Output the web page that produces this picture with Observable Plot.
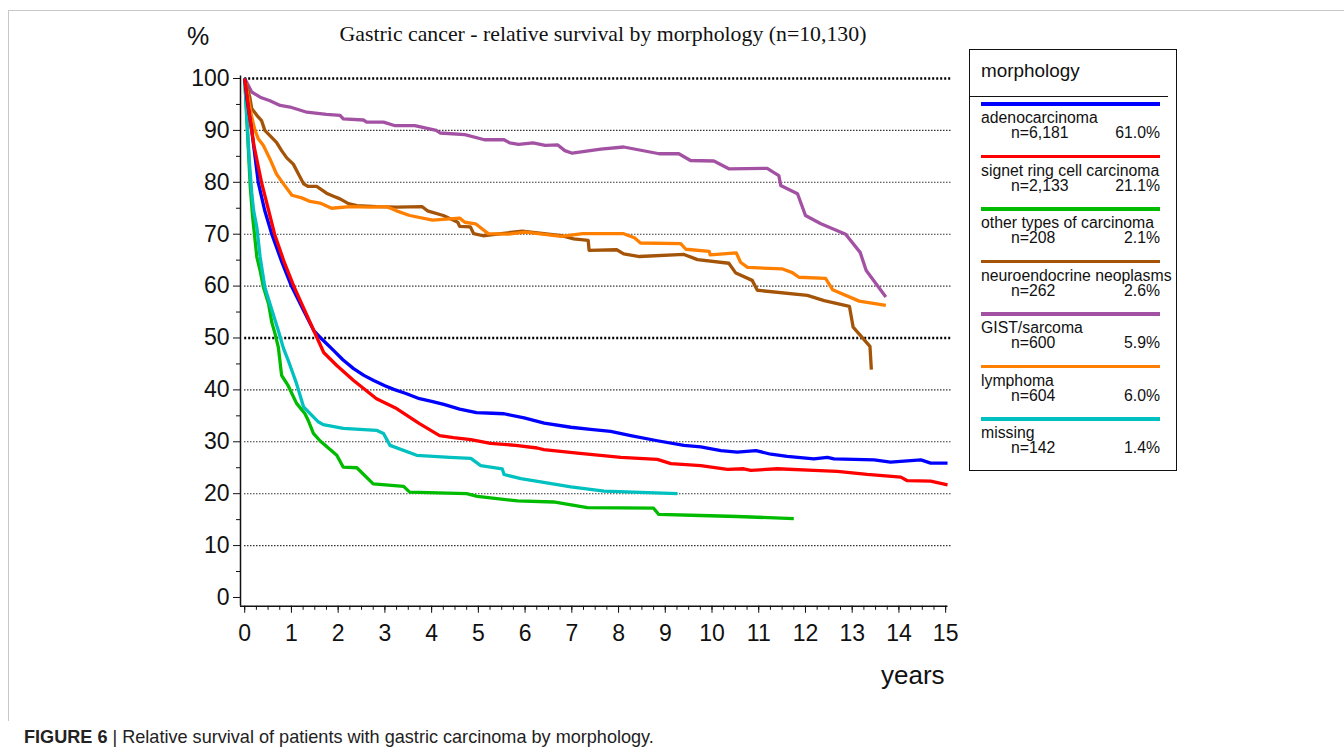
<!DOCTYPE html>
<html>
<head>
<meta charset="utf-8">
<script src="https://cdn.jsdelivr.net/npm/d3@7"></script>
<script src="https://cdn.jsdelivr.net/npm/@observablehq/plot@0.6"></script>
<style>
  html, body { margin: 0; padding: 0; background: #fff; }
  body { width: 1344px; height: 754px; position: relative; overflow: hidden; }
  .abs { position: absolute; white-space: nowrap; }
  #frame { position: absolute; left: 8px; top: 10px; width: 1340px; height: 710px; border-top: 1px solid #c8c8c8; border-left: 1px solid #c8c8c8; }
  #title { left: 0; width: 1206px; top: 22px; text-align: center; font-family: "Liberation Serif", "Times New Roman", serif; font-size: 21.8px; color: #111; }
  #pct { left: 187px; top: 22px; font-family: "Liberation Sans", Arial, sans-serif; font-size: 25px; color: #111; }
  #years { left: 881px; top: 660px; font-family: "Liberation Sans", Arial, sans-serif; font-size: 26px; color: #111; }
  #legend { position: absolute; left: 969px; top: 49px; width: 208px; height: 422px; border: 1.5px solid #111; box-sizing: border-box; font-family: "Liberation Sans", Arial, sans-serif; color: #111; }
  #caption { left: 24px; top: 727px; font-family: "Liberation Sans", Arial, sans-serif; font-size: 18.1px; color: #222; }
  #chart { position: absolute; left: 0; top: 0; }
</style>
</head>
<body>
<div id="frame"></div>
<div id="chart"></div>
<div id="title" class="abs"></div>
<div id="pct" class="abs">%</div>
<div id="years" class="abs">years</div>
<div id="legend"></div>
<div id="caption" class="abs"><b>FIGURE 6</b> | Relative survival of patients with gastric carcinoma by morphology.</div>
<script>
// ---------- data ----------
const titleText = "Gastric cancer - relative survival by morphology (n=10,130)";
const legendTitle = "morphology";

const categories = ["adenocarcinoma", "signet ring cell carcinoma", "other types of carcinoma", "neuroendocrine neoplasms", "GIST/sarcoma", "lymphoma", "missing"];
const counts = ["n=6,181", "n=2,133", "n=208", "n=262", "n=600", "n=604", "n=142"];
const shares = ["61.0%", "21.1%", "2.1%", "2.6%", "5.9%", "6.0%", "1.4%"];
const colors = ["#0000ff", "#ff0000", "#00bb00", "#a45408", "#a352a3", "#ff8000", "#00c0c0"];

const xTicks = d3.range(0, 16, 1);
const xMinorTicks = d3.range(0, 15.01, 0.25);
const yTicks = d3.range(0, 101, 10);
const yMinorTicks = d3.range(5, 100, 10);
const gridValues = d3.range(10, 101, 10);
const boldGrid = [50, 100];

// [years, relative survival %]
const adenocarcinoma = [[0,100],[0.05,96],[0.15,90],[0.29,80],[0.43,74.5],[0.58,70],[0.8,64.5],[1.0,60],[1.25,55.5],[1.48,51.4],[1.65,49.8],[1.9,47.6],[2.1,45.8],[2.33,44.1],[2.55,42.8],[2.76,41.8],[3.0,40.8],[3.19,40.1],[3.45,39.3],[3.74,38.3],[4.0,37.8],[4.26,37.2],[4.6,36.3],[4.96,35.6],[5.3,35.5],[5.55,35.4],[5.98,34.6],[6.41,33.6],[6.98,32.8],[7.4,32.4],[7.83,32.0],[8.26,31.2],[8.83,30.2],[9.4,29.3],[9.76,29.0],[10.19,28.3],[10.54,28.0],[10.94,28.3],[11.26,27.6],[11.61,27.2],[12.18,26.7],[12.47,27.0],[12.61,26.7],[13.47,26.5],[13.82,26.1],[14.47,26.5],[14.68,25.9],[15.04,25.9]];
const signetRing = [[0,100],[0.1,93],[0.2,87],[0.36,80],[0.5,75],[0.64,70],[0.85,64.5],[1.05,60],[1.25,56],[1.48,51.4],[1.69,47.2],[1.97,44.7],[2.33,41.8],[2.82,38.3],[3.25,36.4],[3.74,33.5],[4.17,31.2],[4.47,30.8],[4.84,30.4],[5.26,29.7],[5.8,29.3],[6.26,28.8],[6.40,28.5],[7.12,27.8],[8.05,27.0],[8.83,26.6],[9.12,25.8],[9.76,25.4],[10.33,24.7],[10.68,24.8],[10.83,24.5],[11.40,24.8],[12.18,24.5],[12.68,24.3],[13.32,23.7],[14.04,23.2],[14.18,22.5],[14.68,22.4],[15.04,21.7]];
const otherCarcinoma = [[0,100],[0.04,93],[0.08,86],[0.12,79],[0.17,73.3],[0.26,65.6],[0.33,63.0],[0.40,59.8],[0.51,56.6],[0.58,53],[0.65,50.8],[0.72,48.2],[0.79,42.8],[0.93,40.8],[1.11,37.4],[1.29,35.4],[1.36,34.1],[1.47,31.6],[1.61,30.2],[1.97,27.4],[2.11,25.1],[2.40,25.0],[2.75,21.9],[3.40,21.4],[3.53,20.3],[4.75,20.0],[4.98,19.5],[5.84,18.6],[6.61,18.4],[7.33,17.3],[8.75,17.2],[8.86,16.0],[9.76,15.8],[10.54,15.6],[11.75,15.2]];
const neuroendocrine = [[0,100],[0.11,96.4],[0.15,94.2],[0.26,92.9],[0.36,91.9],[0.43,90.0],[0.54,89.0],[0.68,87.7],[0.79,86.1],[0.90,84.7],[1.04,83.5],[1.15,81.6],[1.26,79.7],[1.36,79.2],[1.54,79.2],[1.75,77.9],[1.90,77.3],[2.04,76.8],[2.22,75.9],[2.40,75.5],[2.82,75.3],[3.25,75.2],[3.80,75.3],[3.91,74.5],[4.25,73.6],[4.56,72.3],[4.60,71.5],[4.83,71.4],[4.90,70.1],[5.10,69.7],[5.94,70.6],[6.78,69.7],[7.04,69.1],[7.35,68.8],[7.37,66.9],[7.96,67.0],[8.11,66.2],[8.45,65.7],[9.40,66.1],[9.69,65.1],[10.36,64.4],[10.51,62.5],[10.86,61.1],[10.97,59.2],[12.04,58.2],[12.40,57.2],[12.94,56.1],[13.02,52.1],[13.38,48.4],[13.41,43.9]];
const gistSarcoma = [[0,100],[0.15,97.4],[0.33,96.4],[0.54,95.7],[0.76,94.8],[0.97,94.5],[1.33,93.5],[1.75,93.1],[2.04,92.9],[2.11,92.2],[2.54,92.0],[2.61,91.6],[2.97,91.6],[3.22,90.9],[3.64,90.9],[4.10,90.0],[4.18,89.5],[4.71,89.2],[5.13,88.2],[5.55,88.2],[5.67,87.6],[5.86,87.3],[6.17,87.6],[6.43,87.1],[6.70,87.2],[6.85,86.1],[7.01,85.6],[7.62,86.4],[8.11,86.8],[8.87,85.5],[9.29,85.5],[9.54,84.2],[10.04,84.1],[10.36,82.6],[11.18,82.7],[11.43,81.3],[11.47,79.4],[11.83,77.8],[12.00,73.6],[12.33,72.0],[12.86,70.0],[13.17,66.5],[13.30,63.0],[13.72,57.9]];
const lymphoma = [[0,100],[0.11,94.5],[0.15,92.6],[0.22,90.0],[0.29,88.4],[0.40,87.1],[0.54,84.5],[0.68,81.6],[0.83,79.7],[1.01,77.5],[1.22,77.0],[1.40,76.3],[1.61,76.0],[1.86,75.0],[2.25,75.3],[2.68,75.2],[3.04,75.3],[3.25,74.5],[3.53,73.6],[4.02,72.7],[4.60,73.1],[4.71,72.3],[4.94,72.0],[5.21,70.1],[5.63,70.0],[6.01,70.4],[6.78,69.6],[7.23,70.1],[8.11,70.1],[8.34,69.3],[8.47,68.3],[9.33,68.2],[9.44,67.1],[9.94,66.7],[9.96,66.0],[10.52,66.4],[10.61,64.6],[10.76,63.6],[11.51,63.3],[11.72,62.6],[11.86,61.7],[12.43,61.5],[12.58,59.3],[13.15,57.1],[13.72,56.3]];
const missing = [[0,100],[0.05,92],[0.1,84],[0.15,78],[0.19,74.6],[0.26,71.3],[0.33,65.6],[0.43,59.8],[0.54,56.6],[0.65,53.4],[0.72,51.4],[0.83,48],[0.93,45.7],[1.11,41.2],[1.26,36.7],[1.58,33.8],[1.68,33.3],[2.11,32.6],[2.82,32.2],[2.97,31.6],[3.11,29.3],[3.68,27.4],[4.39,27.0],[4.84,26.8],[5.05,25.4],[5.51,24.8],[5.55,23.7],[5.91,22.9],[6.98,21.3],[7.69,20.5],[9.26,20.0]];

const seriesData = [adenocarcinoma, signetRing, otherCarcinoma, neuroendocrine, gistSarcoma, lymphoma, missing];
// drawing order: back to front as in reference
const drawOrder = [4, 3, 5, 2, 6, 0, 1];

// ---------- build table ----------
const rows = [];
drawOrder.forEach(i => {
  seriesData[i].forEach(([t, s]) => rows.push({group: categories[i], t, s}));
});

const xDomain = [-0.09, 15.05];
const yDomain = [-1.7, 100.5];

const chart = Plot.plot({
  width: 960,
  height: 700,
  marginLeft: 240,
  marginRight: 12.5,
  marginTop: 75.4,
  marginBottom: 94.2,
  style: {fontFamily: '"Liberation Sans", Arial, sans-serif', background: "transparent", color: "#111", overflow: "visible"},
  x: {domain: xDomain, axis: null},
  y: {domain: yDomain, axis: null},
  color: {domain: categories, range: colors},
  marks: [
    Plot.ruleY(gridValues.filter(v => !boldGrid.includes(v)), {x1: 0, x2: 15.12, stroke: "#000", strokeWidth: 1.1, strokeDasharray: "1.2,1.8"}),
    Plot.ruleY(boldGrid, {x1: 0, x2: 15.12, stroke: "#000", strokeWidth: 2.4, strokeDasharray: "2,2"}),
    Plot.ruleX([xDomain[0]], {stroke: "#111", strokeWidth: 1.5}),
    Plot.ruleY([yDomain[0]], {stroke: "#111", strokeWidth: 1.5}),
    Plot.axisY({ticks: yTicks, tickSize: 7, tickPadding: 4, fontSize: 23, tickFormat: d => String(d), stroke: "#111", label: null}),
    Plot.axisY({ticks: yMinorTicks, tickSize: 4, tickFormat: () => "", stroke: "#111", label: null}),
    Plot.axisX({ticks: xTicks, tickSize: 7, tickPadding: 11, fontSize: 23, tickFormat: d => String(d), stroke: "#111", anchor: "bottom", label: null}),
    Plot.axisX({ticks: xMinorTicks, tickSize: 4, tickFormat: () => "", stroke: "#111", anchor: "bottom", label: null}),
    Plot.line(rows, {x: "t", y: "s", z: "group", stroke: "group", strokeWidth: 3.3, curve: "linear", strokeLinejoin: "round", strokeLinecap: "butt"})
  ]
});
document.getElementById("chart").appendChild(chart);
document.getElementById("title").textContent = titleText;

// ---------- legend ----------
const legend = document.getElementById("legend");
const head = document.createElement("div");
head.textContent = legendTitle;
Object.assign(head.style, {position: "absolute", left: "11px", top: "10px", fontSize: "18.9px"});
legend.appendChild(head);
const sep = document.createElement("div");
Object.assign(sep.style, {position: "absolute", left: "0px", top: "45.5px", width: "198px", height: "0", borderTop: "1.3px solid #111"});
legend.appendChild(sep);
categories.forEach((name, i) => {
  const top = 52 + i * 52.5;
  const bar = document.createElement("div");
  Object.assign(bar.style, {position: "absolute", left: "11px", top: top + "px", width: "179px", height: "3.5px", background: colors[i]});
  legend.appendChild(bar);
  const nm = document.createElement("div");
  nm.textContent = name;
  Object.assign(nm.style, {position: "absolute", left: "11px", top: (top + 7) + "px", fontSize: "15.8px", whiteSpace: "nowrap"});
  legend.appendChild(nm);
  const n = document.createElement("div");
  n.textContent = counts[i];
  Object.assign(n.style, {position: "absolute", left: "41px", top: (top + 22) + "px", fontSize: "15.8px"});
  legend.appendChild(n);
  const p = document.createElement("div");
  p.textContent = shares[i];
  Object.assign(p.style, {position: "absolute", right: "16px", top: (top + 22) + "px", fontSize: "15.8px", textAlign: "right"});
  legend.appendChild(p);
});
</script>
</body>
</html>
